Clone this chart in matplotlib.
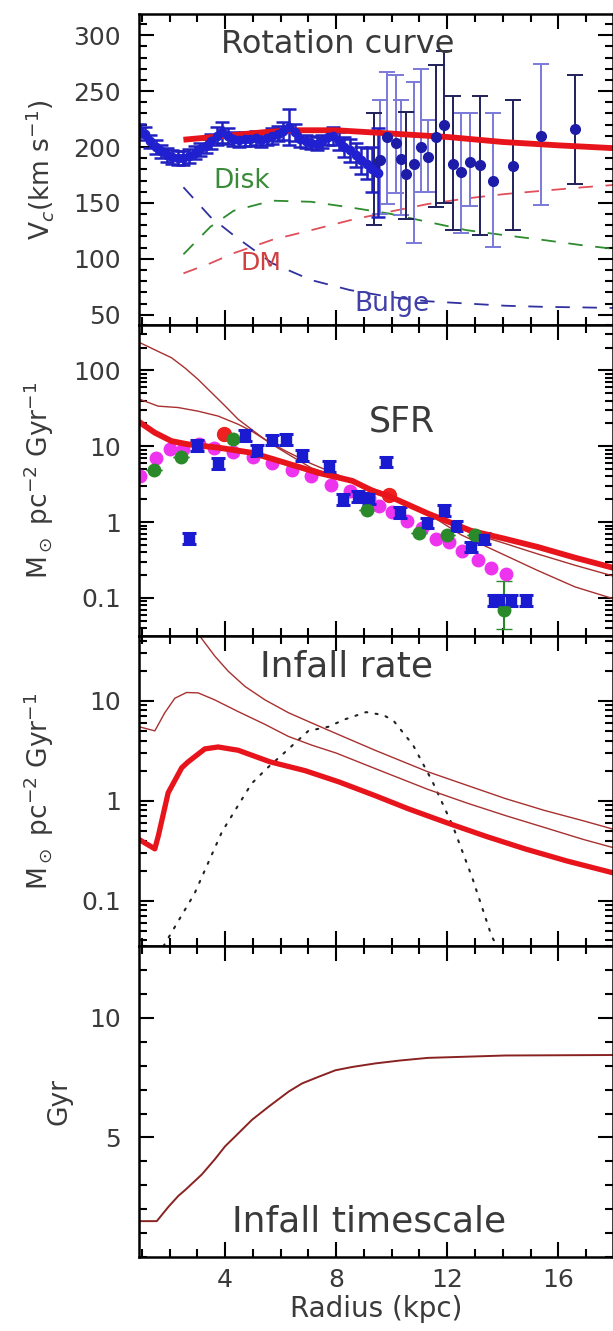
import numpy as np
import matplotlib
matplotlib.use("Agg")
import matplotlib.pyplot as plt
from matplotlib.ticker import MultipleLocator, LogLocator, FixedLocator, NullFormatter, FixedFormatter

plt.rcParams['font.family'] = ['DejaVu Sans']

# ---------------- Panel 1: rotation curve ----------------
rc_in_r = [0.9, 1.1, 1.3, 1.5, 1.7, 1.9, 2.1, 2.3, 2.5, 2.7, 2.9, 3.1, 3.3, 3.5, 3.7, 3.9,
           4.1, 4.3, 4.5, 4.7, 4.9, 5.1, 5.3, 5.5, 5.7, 5.9, 6.1, 6.3, 6.5, 6.7, 6.9, 7.1,
           7.3, 7.5, 7.7, 7.9, 8.1, 8.3, 8.5, 8.7, 8.9, 9.1, 9.3, 9.5]
rc_in_v = [215, 212, 205, 200, 196, 193, 191, 190, 190, 192, 195, 198, 201, 205, 210, 213,
           210, 207, 206, 207, 207, 208, 206, 208, 210, 212, 214, 218, 213, 207, 205, 204,
           203, 205, 209, 210, 205, 200, 197, 193, 188, 185, 180, 177]
rc_in_e = [6, 6, 6, 6, 6, 6, 6, 6, 6, 6, 6, 6, 6, 7, 8, 9,
           7, 6, 6, 6, 6, 6, 6, 6, 7, 7, 8, 16, 8, 7, 6, 6,
           6, 6, 7, 8, 8, 9, 10, 11, 12, 14, 20, 40]

rc_out_r = [9.37, 9.58, 9.83, 10.14, 10.35, 10.52, 10.81, 11.05, 11.31, 11.61, 11.90,
            12.2, 12.5, 12.81, 13.19, 13.65, 14.38, 15.38, 16.6]
rc_out_v = [182, 188, 209, 204, 189, 176, 185, 200, 191, 209, 220,
            185, 178, 187, 184, 170, 183, 210, 216]
rc_out_lo = [52, 48, 60, 45, 50, 40, 71, 40, 31, 63, 70, 59, 55, 40, 63, 59, 57, 62, 49]
rc_out_hi = [48, 54, 58, 60, 53, 55, 73, 70, 33, 64, 66, 61, 52, 43, 62, 60, 59, 64, 48]
rc_out_dark = [1, 0, 0, 0, 0, 1, 0, 0, 0, 1, 1, 1, 0, 0, 1, 0, 1, 0, 1]

model_r = [2.5, 4.0, 5.5, 6.5, 8.0, 10.0, 12.0, 14.0, 16.0, 17.97]
model_v = [206.5, 210, 213.5, 215, 215, 212, 209, 204.5, 201.5, 199]

comp_r = [2.5, 3.47, 4.31, 5.7, 7.1, 8.5, 9.9, 11.3, 12.7, 14.1, 15.5, 16.9, 17.97]
disk_v = [104, 128.6, 143, 152, 151, 146, 140.5, 133, 125.6, 121, 116.7, 112, 109]
dm_v = [87, 96, 105, 117, 125.6, 134.5, 142, 149, 154, 158, 161, 164, 166]
bulge_v = [164, 137.5, 121, 96, 81, 72, 66, 62, 60, 58, 57, 56.5, 56]

# ---------------- Panel 2: SFR ----------------
sfr_thick_r = [0.9, 1.47, 2.07, 2.67, 3.75, 4.97, 6.17, 7.37, 8.58, 9.3, 9.9, 11.3, 12.85,
               14.1, 15.26, 16.6, 17.97]
sfr_thick = [21, 15.1, 11.7, 10.6, 9.6, 8.2, 6.05, 4.45, 3.5, 2.6, 2.2, 1.3, 0.77,
             0.6, 0.47, 0.34, 0.25]
sfr_thin1_r = [0.9, 1.59, 2.07, 2.55, 3.03, 3.51, 4.0, 4.47, 4.95, 5.43, 6.17, 7.1, 8.5,
               9.9, 11.3, 12.5, 13.44, 15.26, 16.6, 17.97]
sfr_thin1 = [235, 178, 147, 108, 76, 51, 34, 22.7, 16.7, 12.3, 8.7, 5.9, 3.6,
             2.3, 1.3, 0.68, 0.47, 0.23, 0.14, 0.098]
sfr_thin2_r = [0.9, 1.59, 2.31, 3.03, 3.75, 4.47, 4.95, 5.43, 5.9, 6.5, 7.1, 8.5, 9.9,
               11.3, 12.85, 14.1, 15.26, 16.6, 17.97]
sfr_thin2 = [42, 33.8, 32.4, 29, 25, 19.5, 15.9, 12.3, 9.5, 7, 5.2, 3.5, 2.2,
             1.27, 0.72, 0.52, 0.38, 0.27, 0.195]

mag_r = [0.94, 1.5, 2.0, 2.5, 3.05, 3.6, 4.3, 5.0, 5.7, 6.4, 7.1, 7.8, 8.5, 9.2, 9.54, 10.0,
         10.56, 11.1, 11.59, 12.07, 12.55, 13.1, 13.57, 14.1]
mag_v = [4.1, 6.9, 9.3, 9.3, 10.8, 9.5, 8.5, 7.3, 6.0, 4.8, 4.0, 3.1, 2.6, 2.1, 1.63, 1.34,
         1.05, 0.83, 0.6, 0.54, 0.42, 0.32, 0.25, 0.21]
grn_r = [1.43, 2.4, 4.3, 9.1, 11.0, 12.0, 13.0, 14.05]
grn_v = [4.8, 7.2, 12.6, 1.45, 0.71, 0.67, 0.67, 0.069]
grn_lo = [0, 0, 0, 0, 0, 0, 0, 0.030]
grn_hi = [0, 0, 0, 0, 0, 0, 0, 0.10]
red_r = [3.96, 9.9]
red_v = [14.7, 2.3]
blu_r = [2.7, 3.0, 3.75, 4.7, 5.15, 5.7, 6.2, 6.77, 7.75, 8.24, 8.8, 9.2, 9.8, 10.3,
         11.28, 11.88, 12.3, 12.85, 13.33, 13.7, 13.87, 14.3, 14.83]
blu_v = [0.6, 10.3, 5.9, 14.0, 8.7, 12.1, 12.3, 7.6, 5.35, 2.0, 2.15, 2.06, 6.2, 1.35,
         0.97, 1.41, 0.89, 0.47, 0.6, 0.093, 0.093, 0.093, 0.093]

# ---------------- Panel 3: infall rate ----------------
inf_r = [0.9, 1.47, 1.6, 1.95, 2.44, 2.67, 3.27, 3.75, 4.47, 5.62, 6.88, 8.08, 9.42,
         10.6, 12.0, 13.4, 14.8, 16.3, 17.97]
inf_thick = [0.41, 0.33, 0.45, 1.2, 2.14, 2.45, 3.3, 3.45, 3.2, 2.45, 2.0, 1.55, 1.12,
             0.83, 0.6, 0.44, 0.33, 0.25, 0.19]
infA_r = [3.1, 3.63, 4.11, 4.72, 5.44, 6.28, 7.12, 8.0, 9.4, 11.3, 12.7, 14.1, 15.5,
          16.9, 17.97]
infA_v = [44, 28, 19.8, 13.9, 10.2, 7.6, 6.0, 4.7, 3.2, 1.95, 1.43, 1.05, 0.8, 0.63, 0.52]
infB_r = [0.9, 1.47, 1.83, 2.19, 2.61, 3.03, 3.63, 4.47, 5.44, 6.28, 7.12, 8.0, 9.4,
          11.3, 12.7, 14.1, 15.5, 16.9, 17.97]
infB_v = [5.5, 5.0, 7.6, 10.6, 12.1, 12.0, 10.2, 7.8, 5.8, 4.4, 3.6, 3.0, 2.1,
          1.3, 0.95, 0.71, 0.54, 0.41, 0.34]
dot_r = [1.78, 2.9, 3.89, 4.95, 5.5, 6.1, 6.7, 7.0, 7.72, 8.3, 9.08, 9.7, 10.07, 10.77,
         11.47, 12.2, 12.9, 13.6, 13.8]
dot_v = [0.035, 0.118, 0.49, 1.48, 2.1, 2.96, 4.2, 5.0, 5.5, 6.5, 7.7, 7.2, 6.3, 3.6,
         1.55, 0.56, 0.17, 0.044, 0.035]

# ---------------- Panel 4: infall timescale ----------------
tau_r = [0.9, 1.54, 1.96, 2.32, 2.56, 3.16, 3.64, 4.0, 4.37, 4.97, 5.57, 6.29, 6.77, 7.37,
         7.97, 8.58, 9.42, 10.3, 11.3, 12.7, 14.1, 17.97]
tau_v = [1.5, 1.5, 2.1, 2.56, 2.8, 3.45, 4.1, 4.63, 5.05, 5.74, 6.29, 6.92, 7.26, 7.54,
         7.81, 7.95, 8.1, 8.22, 8.33, 8.38, 8.43, 8.45]

xticks = [4, 8, 12, 16]
xticklabels = ['4', '8', '12', '16']

# ---------------- Figure ----------------
W, H = 613, 1331
fig = plt.figure(figsize=(W / 100, H / 100), dpi=100)
left = 139 / W
right = 1.0
bot = 1 - 1257 / H
top = 1 - 14 / H
ph = (top - bot) / 4
axes = [fig.add_axes([left, top - (i + 1) * ph, right - left, ph]) for i in range(4)]

TXT = '#3a3a3a'
RED = '#e8141c'
THIN = '#a83030'
DASH = (0, (8, 7))

for ax in axes:
    ax.set_xlim(0.9, 17.97)
    ax.xaxis.set_major_locator(FixedLocator(xticks))
    ax.xaxis.set_minor_locator(MultipleLocator(1))
    ax.tick_params(which='both', direction='in', top=True, right=True,
                   width=1.5, colors='black', labelcolor=TXT, labelsize=18, pad=13)
    ax.tick_params(which='major', length=10.5)
    ax.tick_params(which='minor', length=5.5)
    for s in ax.spines.values():
        s.set_linewidth(1.8)
    ax.set_xticklabels([])

# Panel 1
ax = axes[0]
ax.set_ylim(41, 319)
ax.yaxis.set_major_locator(MultipleLocator(50))
ax.yaxis.set_minor_locator(MultipleLocator(10))
ax.plot(comp_r, disk_v, ls=DASH, color='#2e8b2e', lw=1.3)
ax.plot(comp_r, dm_v, ls=DASH, color='#e0505a', lw=1.3)
ax.plot(comp_r, bulge_v, ls=DASH, color='#3030a0', lw=1.3)
dk = np.array(rc_out_dark, dtype=bool)
r_o = np.array(rc_out_r); v_o = np.array(rc_out_v)
lo_o = np.array(rc_out_lo); hi_o = np.array(rc_out_hi)
ax.errorbar(r_o[~dk], v_o[~dk], yerr=[lo_o[~dk], hi_o[~dk]], fmt='o', color='#1c1ca8',
            ms=7, ecolor='#7a7ad8', elinewidth=1.4, capsize=6, capthick=1.4)
ax.errorbar(r_o[dk], v_o[dk], yerr=[lo_o[dk], hi_o[dk]], fmt='o', color='#1c1ca8',
            ms=7, ecolor='#20205a', elinewidth=1.4, capsize=6, capthick=1.4)
ax.errorbar(rc_in_r, rc_in_v, yerr=rc_in_e, fmt='o', color='#2020d0', ms=6,
            ecolor='#2020c0', elinewidth=1.8, capsize=5, capthick=1.8)
ax.plot(model_r, model_v, color=RED, lw=4.2, solid_capstyle='butt')
ax.text(8.05, 292, 'Rotation curve', ha='center', va='center', fontsize=23, color=TXT)
ax.text(4.6, 170, 'Disk', ha='center', va='center', fontsize=19, color='#3a8a3a')
ax.text(5.3, 96, 'DM', ha='center', va='center', fontsize=18, color='#d04040')
ax.text(10.0, 60, 'Bulge', ha='center', va='center', fontsize=19, color='#4040a8')
ax.set_ylabel('V$_c$(km s$^{-1}$)', fontsize=19, color=TXT)

# Panel 2
ax = axes[1]
ax.set_yscale('log')
ax.set_ylim(0.032, 400)
ax.yaxis.set_major_locator(FixedLocator([0.1, 1, 10, 100]))
ax.yaxis.set_major_formatter(FixedFormatter(['0.1', '1', '10', '100']))
ax.yaxis.set_minor_locator(LogLocator(base=10, subs=np.arange(2, 10)))
ax.yaxis.set_minor_formatter(NullFormatter())
ax.plot(sfr_thin1_r, sfr_thin1, color=THIN, lw=1.0)
ax.plot(sfr_thin2_r, sfr_thin2, color=THIN, lw=1.0)
ax.errorbar(grn_r, grn_v, yerr=[grn_lo, grn_hi], fmt='o', color='#2a8a2a', ms=9,
            elinewidth=1.5, capsize=6)
ax.plot(mag_r, mag_v, 'o', color='#ee33ee', ms=9, ls='none')
ax.plot(red_r, red_v, 'o', color='#ee2020', ms=10, ls='none')
blu_v_arr = np.array(blu_v)
ax.errorbar(blu_r, blu_v, yerr=[blu_v_arr * 0.15, blu_v_arr * 0.18], fmt='s', color='#1a1ad0',
            ms=7, elinewidth=2, capsize=5, capthick=2.2)
ax.plot(sfr_thick_r, sfr_thick, color=RED, lw=4.2)
ax.text(10.35, 21, 'SFR', ha='center', va='center', fontsize=25, color=TXT)
ax.set_ylabel('M$_\\odot$ pc$^{-2}$ Gyr$^{-1}$', fontsize=19, color=TXT)

# Panel 3
ax = axes[2]
ax.set_yscale('log')
ax.set_ylim(0.035, 45)
ax.yaxis.set_major_locator(FixedLocator([0.1, 1, 10]))
ax.yaxis.set_major_formatter(FixedFormatter(['0.1', '1', '10']))
ax.yaxis.set_minor_locator(LogLocator(base=10, subs=np.arange(2, 10)))
ax.yaxis.set_minor_formatter(NullFormatter())
ax.plot(dot_r, dot_v, color='#222222', lw=1.5, ls=(0, (1, 4)), dash_capstyle='round')
ax.plot(infA_r, infA_v, color=THIN, lw=1.0)
ax.plot(infB_r, infB_v, color=THIN, lw=1.0)
ax.plot(inf_r, inf_thick, color=RED, lw=3.8)
ax.text(8.37, 22, 'Infall rate', ha='center', va='center', fontsize=26, color=TXT)
ax.set_ylabel('M$_\\odot$ pc$^{-2}$ Gyr$^{-1}$', fontsize=19, color=TXT)

# Panel 4
ax = axes[3]
ax.set_ylim(0, 13)
ax.yaxis.set_major_locator(FixedLocator([5, 10]))
ax.yaxis.set_minor_locator(MultipleLocator(1))
ax.plot(tau_r, tau_v, color='#8a2222', lw=1.4)
ax.text(9.2, 1.5, 'Infall timescale', ha='center', va='center', fontsize=26, color=TXT)
ax.set_ylabel('Gyr', fontsize=19, color=TXT)
ax.set_xticklabels(xticklabels)
ax.tick_params(axis='x', pad=8)
ax.set_xlabel('Radius (kpc)', fontsize=20, color=TXT, labelpad=2)

for ax in axes[:3]:
    ax.yaxis.set_label_coords(-0.175, 0.5)
axes[3].yaxis.set_label_coords(-0.14, 0.5)

fig.savefig('out.png', dpi=100)
